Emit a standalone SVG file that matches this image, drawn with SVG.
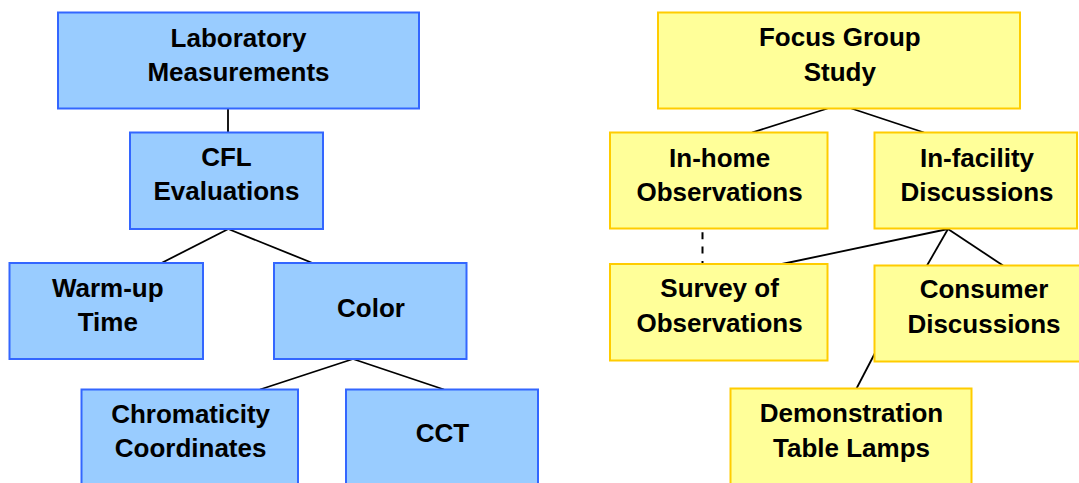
<svg xmlns="http://www.w3.org/2000/svg" width="1079" height="483" viewBox="0 0 1079 483">
<style>
.b{fill:#99CCFF;stroke:#3366FF;stroke-width:2}
.y{fill:#FFFF99;stroke:#FFCC00;stroke-width:2}
text{font-family:"Liberation Sans",Arial,sans-serif;font-weight:bold;font-size:26px;fill:#000;text-anchor:middle}
.c line{stroke:#000;stroke-width:1.8;fill:none}
</style>
<rect width="1079" height="483" fill="#fff"/>
<g class="c" id="connectors">
<line x1="228" y1="109" x2="228" y2="132"/>
<line x1="228.3" y1="229" x2="161.5" y2="263"/>
<line x1="228.3" y1="229" x2="312.5" y2="263"/>
<line x1="353" y1="359" x2="260" y2="389.5"/>
<line x1="353" y1="359" x2="444" y2="389.5"/>
<line x1="827.5" y1="108.5" x2="752" y2="132.5"/>
<line x1="851.5" y1="108.5" x2="924" y2="132.5"/>
<line x1="702.5" y1="232.3" x2="702.5" y2="264" stroke-dasharray="7 7.3" style="stroke-width:2"/>
<line x1="948" y1="229" x2="782" y2="264"/>
<line x1="948" y1="229" x2="927" y2="265.5"/>
<line x1="948" y1="229" x2="1003" y2="265.5"/>
<line x1="875" y1="353" x2="856.5" y2="388.5"/>
</g>
<g id="lab"><rect class="b" x="58" y="12.5" width="361" height="96"/><text x="238.5" y="46.7">Laboratory</text><text x="238.5" y="81">Measurements</text></g>
<g id="cfl"><rect class="b" x="130" y="132.5" width="193" height="96.5"/><text x="226.4" y="165.7">CFL</text><text x="226.4" y="200.3">Evaluations</text></g>
<g id="warmup"><rect class="b" x="9.5" y="263" width="193.5" height="96"/><text x="107.8" y="296.7">Warm-up</text><text x="107.8" y="330.9">Time</text></g>
<g id="color"><rect class="b" x="274" y="263" width="192.5" height="96"/><text x="371" y="316.7">Color</text></g>
<g id="chroma"><rect class="b" x="81.5" y="389.5" width="216.5" height="100"/><text x="190.6" y="422.7">Chromaticity</text><text x="190.6" y="457.3">Coordinates</text></g>
<g id="cct"><rect class="b" x="346" y="389.5" width="192" height="100"/><text x="442.5" y="441.7">CCT</text></g>
<g id="focus"><rect class="y" x="658" y="12.5" width="362" height="96"/><text x="839.8" y="45.7">Focus Group</text><text x="839.8" y="80.5">Study</text></g>
<g id="inhome"><rect class="y" x="610" y="132.5" width="217.5" height="96"/><text x="719.6" y="166.5">In-home</text><text x="719.6" y="200.5">Observations</text></g>
<g id="infacility"><rect class="y" x="874.5" y="132.5" width="202.5" height="96"/><text x="977" y="166.5">In-facility</text><text x="977" y="200.5">Discussions</text></g>
<g id="survey"><rect class="y" x="610" y="264" width="217.5" height="96.5"/><text x="719.6" y="297.3">Survey of</text><text x="719.6" y="332.3">Observations</text></g>
<g id="consumer"><rect class="y" x="874.5" y="265.5" width="218" height="96"/><text x="984" y="298.3">Consumer</text><text x="984" y="333.3">Discussions</text></g>
<g id="demo"><rect class="y" x="730.5" y="388.5" width="241" height="100"/><text x="851.5" y="421.7">Demonstration</text><text x="851.5" y="456.7">Table Lamps</text></g>
</svg>
